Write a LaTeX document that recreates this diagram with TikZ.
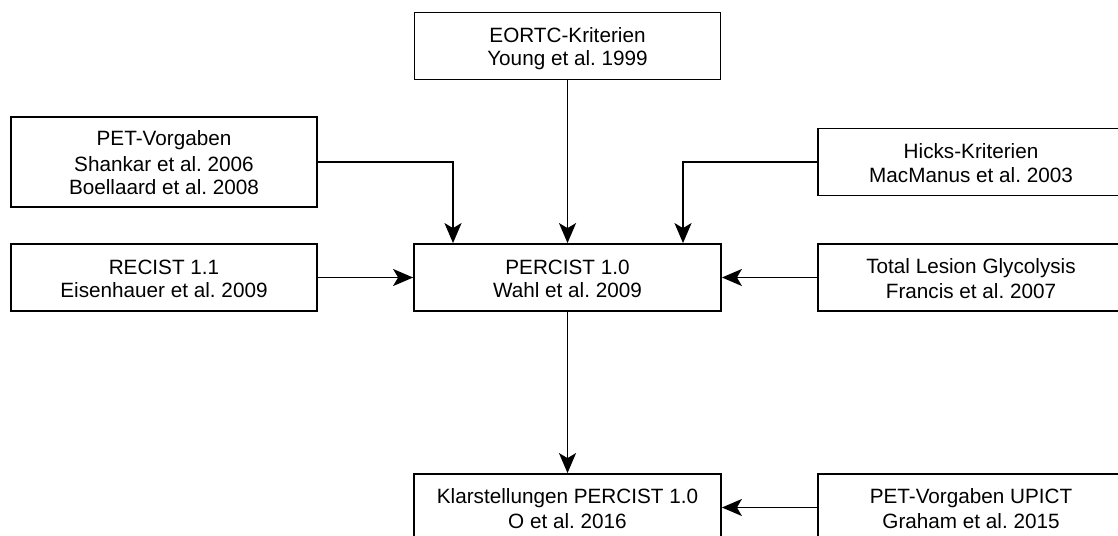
\documentclass[tikz,border=0pt]{standalone}
\usepackage{fontspec}
\setmainfont{Liberation Sans}
\usetikzlibrary{arrows.meta}
\frenchspacing
% invisible strut that fixes the height and depth of every text line
\newcommand\ls{\rule[-3.5pt]{0pt}{23.6pt}}
\begin{document}
\begin{tikzpicture}[x=1pt,y=-1pt,
  box/.style={draw=black, line width=1.8pt, fill=white, inner sep=0pt,
    minimum width=306pt, minimum height=67pt, align=center,
    font=\fontsize{20.7pt}{23.6pt}\selectfont},
  arr/.style={draw=black, line width=1.8pt,
    -{Stealth[length=20pt, width=17pt, inset=5pt]}}]
\useasboundingbox (0,0) rectangle (1118,535);
\clip (0,0) rectangle (1118,535);

% boxes
\node[box] (eortc)   at (567.5,46)  {\ls EORTC-Kriterien\\\ls Young et al. 1999};
\node[box, minimum height=90pt] (pet) at (164,162)
  {\ls PET-Vorgaben\\\ls Shankar et al. 2006\\\ls Boellaard et al. 2008};
\node[box] (hicks)   at (971,162)   {\ls Hicks-Kriterien\\\ls MacManus et al. 2003};
\node[box] (recist)  at (164,277.5) {\ls RECIST 1.1\\\ls Eisenhauer et al. 2009};
\node[box, minimum width=307pt] (percist) at (567.5,277.5) {\ls PERCIST 1.0\\\ls Wahl et al. 2009};
\node[box] (tlg)     at (971,277.5) {\ls Total Lesion Glycolysis\\\ls Francis et al. 2007};
\node[box, minimum width=307pt] (klar) at (567.5,507.5) {\ls Klarstellungen PERCIST 1.0\\\ls O et al. 2016};
\node[box] (upict)   at (971,507.5) {\ls PET-Vorgaben UPICT\\\ls Graham et al. 2015};

% connectors
\draw[arr] (eortc) -- (percist);
\draw[arr] (pet.east) -| ([xshift=-114.5pt]percist.north);
\draw[arr] (hicks.west) -| ([xshift=115.5pt]percist.north);
\draw[arr] (recist) -- (percist);
\draw[arr] (tlg) -- (percist);
\draw[arr] (percist) -- (klar);
\draw[arr] (upict) -- (klar);
\end{tikzpicture}
\end{document}
